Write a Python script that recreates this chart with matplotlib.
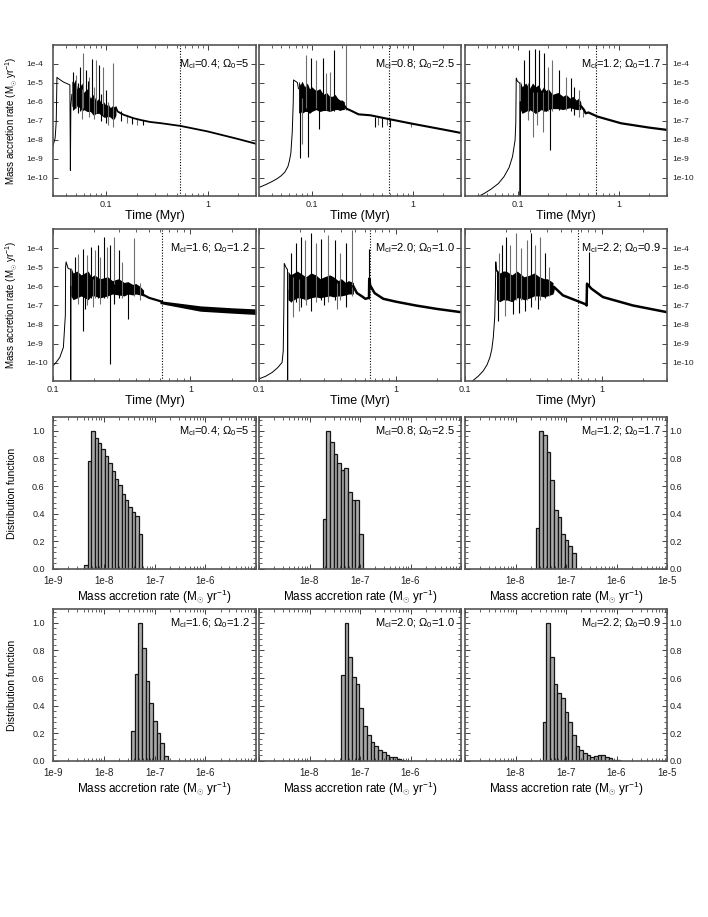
import numpy as np
import matplotlib
matplotlib.use("Agg")
import matplotlib.pyplot as plt
from matplotlib.ticker import FixedLocator, NullLocator, LogLocator, MultipleLocator

plt.rcParams['font.family'] = ['Liberation Sans', 'DejaVu Sans']
plt.rcParams['mathtext.fontset'] = 'custom'
plt.rcParams['mathtext.rm'] = 'Liberation Sans'
plt.rcParams['mathtext.it'] = 'Liberation Sans:italic'
plt.rcParams['mathtext.bf'] = 'Liberation Sans:bold'

# panel captions
labels = [r'M$_{\rm cl}$=0.4; $\Omega_0$=5', r'M$_{\rm cl}$=0.8; $\Omega_0$=2.5',
          r'M$_{\rm cl}$=1.2; $\Omega_0$=1.7', r'M$_{\rm cl}$=1.6; $\Omega_0$=1.2',
          r'M$_{\rm cl}$=2.0; $\Omega_0$=1.0', r'M$_{\rm cl}$=2.2; $\Omega_0$=0.9']

# time of disk formation end (dotted lines), Myr
t_dotted = [0.53, 0.58, 0.60, 0.625, 0.646, 0.668]

# ---- accretion histories (time in Myr, log10 of rate) ----
# panel 1: Mcl=0.4
p1_pre_t = [0.030, 0.0315, 0.0323, 0.0328, 0.0335, 0.038, 0.0440, 0.0445, 0.0450, 0.0460]
p1_pre_lg = [-8.3, -7.9, -7.0, -4.7, -4.75, -4.95, -5.1, -9.6, -6.2, -5.6]
p1_band_t = [0.046, 0.048, 0.05, 0.052, 0.055, 0.058, 0.06, 0.065, 0.07, 0.075, 0.08, 0.085,
             0.09, 0.095, 0.10, 0.105, 0.11, 0.115, 0.12, 0.125]
p1_band_lo = [-6.2, -6.4, -6.3, -6.2, -6.3, -6.5, -6.4, -6.5, -6.5, -6.7, -6.6, -6.6,
              -6.7, -6.8, -6.8, -6.75, -6.8, -6.9, -6.9, -6.7]
p1_band_hi = [-4.9, -5.0, -4.8, -5.3, -5.2, -5.0, -5.5, -5.3, -5.8, -5.6, -5.95, -5.8,
              -6.1, -6.0, -6.2, -6.1, -6.3, -6.2, -6.25, -6.2]
p1_post_t = [0.125, 0.13, 0.14, 0.15, 0.17, 0.185, 0.22, 0.27, 0.35, 0.54, 1.0, 2.0, 3.0]
p1_post_lg = [-6.3, -6.5, -6.6, -6.68, -6.78, -6.85, -6.95, -7.05, -7.12, -7.26, -7.55, -7.95, -8.2]
p1_spikes = [(0.0475, -6.4, -4.40), (0.0505, -6.3, -4.58), (0.0553, -6.5, -4.14),
             (0.0597, -6.3, -3.41), (0.0634, -6.4, -4.32), (0.0684, -6.8, -4.67),
             (0.0722, -6.4, -3.75), (0.0796, -6.6, -3.79), (0.0853, -6.6, -4.05),
             (0.0942, -6.7, -4.14), (0.100, -7.1, -5.37), (0.116, -7.3, -3.96),
             (0.053, -6.6, -5.0), (0.058, -6.9, -5.3), (0.066, -6.5, -4.9),
             (0.076, -6.9, -5.2), (0.090, -7.0, -5.6), (0.105, -7.2, -6.0),
             (0.14, -7.0, -6.5), (0.16, -7.1, -6.7), (0.18, -7.15, -6.8),
             (0.20, -7.2, -6.9), (0.23, -7.2, -6.95)]

# panel 2: Mcl=0.8
p2_pre_t = [0.03, 0.035, 0.04, 0.045, 0.0493, 0.054, 0.058, 0.060, 0.062, 0.064, 0.0655, 0.066, 0.072, 0.0738]
p2_pre_lg = [-10.5, -10.35, -10.2, -10.05, -9.9, -9.7, -9.4, -9.1, -8.7, -7.6, -6.0, -4.84, -4.98, -5.3]
p2_band_t = [0.074, 0.077, 0.08, 0.085, 0.09, 0.095, 0.10, 0.11, 0.12, 0.13, 0.14, 0.15,
             0.16, 0.17, 0.18, 0.19, 0.20, 0.21]
p2_band_lo = [-6.6, -6.5, -6.6, -6.5, -6.5, -6.6, -6.5, -6.4, -6.5, -6.45, -6.45, -6.5,
              -6.45, -6.4, -6.4, -6.45, -6.4, -6.4]
p2_band_hi = [-4.9, -5.1, -4.9, -5.2, -5.0, -5.3, -5.2, -5.4, -5.3, -5.6, -5.5, -5.7,
              -5.7, -5.6, -5.8, -5.9, -5.9, -6.0]
p2_post_t = [0.21, 0.22, 0.243, 0.29, 0.38, 0.58, 1.0, 2.0, 3.0]
p2_post_lg = [-6.2, -6.35, -6.45, -6.65, -6.7, -6.9, -7.15, -7.45, -7.63]
p2_spikes = [(0.076, -8.95, -5.5), (0.080, -8.2, -5.8), (0.091, -8.9, -5.6),
             (0.087, -6.3, -3.53), (0.0977, -6.4, -3.7), (0.109, -6.3, -3.8),
             (0.128, -6.4, -3.7), (0.138, -6.4, -4.49), (0.164, -6.5, -3.26),
             (0.150, -6.5, -4.4), (0.118, -7.4, -5.5), (0.217, -6.4, -3.0),
             (0.42, -7.3, -6.8), (0.45, -7.2, -6.8), (0.50, -7.3, -6.85),
             (0.56, -7.2, -6.85), (0.60, -7.3, -6.9), (0.95, -7.3, -7.1)]

# panel 3: Mcl=1.2
p3_pre_t = [0.03, 0.036, 0.04, 0.047, 0.054, 0.064, 0.073, 0.082, 0.0886, 0.094, 0.0955,
            0.0965, 0.099, 0.104, 0.1050, 0.1054, 0.1058]
p3_pre_lg = [-11.3, -11.2, -11.0, -10.8, -10.6, -10.3, -9.93, -9.45, -8.88, -8.0, -7.1,
             -4.74, -4.9, -5.0, -5.0, -11.5, -6.0]
p3_band_t = [0.106, 0.11, 0.12, 0.13, 0.14, 0.15, 0.16, 0.17, 0.18, 0.19, 0.20, 0.22,
             0.25, 0.28, 0.30, 0.33, 0.35, 0.38, 0.40, 0.42]
p3_band_lo = [-6.4, -6.6, -6.5, -6.4, -6.5, -6.6, -6.5, -6.4, -6.45, -6.5, -6.4, -6.35,
              -6.35, -6.4, -6.35, -6.3, -6.35, -6.4, -6.4, -6.4]
p3_band_hi = [-4.9, -5.2, -5.0, -5.3, -5.0, -5.2, -5.1, -5.4, -5.2, -5.4, -5.3, -5.6,
              -5.5, -5.7, -5.6, -5.8, -5.7, -5.9, -5.8, -6.0]
p3_post_t = [0.42, 0.453, 0.47, 0.50, 0.616, 1.05, 2.0, 3.0]
p3_post_lg = [-6.2, -6.42, -6.6, -6.55, -6.77, -7.12, -7.35, -7.47]
p3_spikes = [(0.115, -6.5, -3.79), (0.125, -6.95, -5.0), (0.129, -6.5, -3.26),
             (0.14, -7.83, -5.5), (0.148, -6.6, -3.21), (0.154, -7.21, -5.5),
             (0.163, -6.5, -3.26), (0.176, -7.56, -5.5), (0.18, -6.5, -3.42),
             (0.197, -6.5, -4.14), (0.208, -8.53, -5.6), (0.22, -6.5, -3.79),
             (0.257, -6.4, -4.32), (0.299, -6.4, -4.67), (0.34, -6.5, -4.75),
             (0.405, -6.8, -5.37), (0.36, -6.7, -5.2), (0.44, -6.8, -6.3)]

# panel 4: Mcl=1.6
p4_pre_t = [0.1, 0.106, 0.112, 0.119, 0.123, 0.1235, 0.1245, 0.129, 0.1343, 0.1346, 0.135]
p4_pre_lg = [-10.16, -9.95, -9.72, -9.19, -7.5, -5.0, -4.72, -5.07, -5.1, -11.5, -6.0]
p4_band_t = [0.135, 0.14, 0.15, 0.16, 0.17, 0.18, 0.19, 0.20, 0.22, 0.25, 0.27, 0.30,
             0.33, 0.35, 0.38, 0.40, 0.43, 0.456]
p4_band_lo = [-6.5, -6.7, -6.6, -6.5, -6.6, -6.7, -6.5, -6.5, -6.6, -6.5, -6.4, -6.45,
              -6.5, -6.4, -6.45, -6.4, -6.45, -6.5]
p4_band_hi = [-5.0, -5.3, -5.2, -5.4, -5.3, -5.2, -5.5, -5.4, -5.6, -5.5, -5.7, -5.6,
              -5.8, -5.75, -5.9, -5.85, -6.0, -6.2]
p4_post_t = [0.456, 0.5, 0.62]
p4_post_lg = [-6.45, -6.6, -6.8]
p4_tail_t = [0.6, 1.18, 2.0, 3.0]
p4_tail_lo = [-6.9, -7.3, -7.4, -7.47]
p4_tail_hi = [-6.75, -7.02, -7.12, -7.18]
p4_spikes = [(0.1447, -6.5, -4.46), (0.153, -6.9, -4.3), (0.164, -8.32, -4.02),
             (0.178, -7.0, -4.35), (0.188, -6.6, -3.93), (0.2025, -6.6, -4.1),
             (0.212, -6.6, -3.84), (0.22, -6.9, -4.46), (0.236, -6.6, -3.4),
             (0.249, -6.6, -3.93), (0.26, -10.07, -3.84), (0.276, -6.6, -3.4),
             (0.30, -6.6, -4.1), (0.318, -6.6, -4.72), (0.35, -7.7, -6.0),
             (0.39, -6.5, -3.49), (0.17, -7.2, -5.5), (0.195, -7.1, -5.6),
             (0.28, -6.9, -5.9), (0.43, -6.7, -5.8)]

# panel 5: Mcl=2.0
p5_pre_t = [0.1, 0.112, 0.125, 0.137, 0.1475, 0.1504, 0.152, 0.153, 0.159, 0.1615, 0.162, 0.1625]
p5_pre_lg = [-10.84, -10.7, -10.5, -10.25, -9.98, -9.37, -7.0, -4.8, -5.07, -5.1, -11.5, -6.2]
p5_band_t = [0.163, 0.17, 0.18, 0.19, 0.20, 0.22, 0.24, 0.26, 0.28, 0.30, 0.33, 0.35,
             0.38, 0.40, 0.43, 0.45, 0.49]
p5_band_lo = [-6.7, -6.8, -6.7, -6.6, -6.6, -6.7, -6.6, -6.55, -6.6, -6.55, -6.5, -6.55,
              -6.5, -6.5, -6.45, -6.4, -6.4]
p5_band_hi = [-5.2, -5.4, -5.3, -5.2, -5.3, -5.5, -5.3, -5.4, -5.6, -5.5, -5.4, -5.5,
              -5.7, -5.6, -5.8, -5.7, -5.8]
p5_post_t = [0.49, 0.52, 0.56, 0.60, 0.637, 0.640, 0.65, 0.70, 0.81, 1.0, 1.4, 2.0, 3.0]
p5_post_lg = [-6.0, -6.35, -6.5, -6.65, -6.6, -5.6, -5.95, -6.35, -6.65, -6.8, -7.0, -7.18, -7.35]
p5_spikes = [(0.172, -6.8, -4.28), (0.178, -7.6, -5.5), (0.188, -6.8, -3.75),
             (0.195, -7.3, -5.6), (0.204, -7.1, -3.4), (0.217, -6.7, -3.6),
             (0.242, -7.3, -3.22), (0.263, -6.8, -3.75), (0.286, -6.7, -3.5),
             (0.32, -6.8, -3.3), (0.358, -6.7, -3.6), (0.39, -6.7, -4.28),
             (0.435, -7.1, -3.75), (0.48, -6.5, -3.05), (0.64, -6.65, -4.02),
             (0.22, -7.0, -5.5), (0.30, -7.0, -5.7), (0.37, -7.2, -5.8)]

# panel 6: Mcl=2.2
p6_pre_t = [0.1, 0.112, 0.125, 0.136, 0.145, 0.152, 0.157, 0.161, 0.165, 0.167, 0.168, 0.17]
p6_pre_lg = [-11.4, -10.98, -10.7, -10.42, -10.1, -9.72, -9.3, -8.67, -7.6, -6.0, -4.72, -5.2]
p6_band_t = [0.17, 0.18, 0.19, 0.20, 0.22, 0.24, 0.25, 0.27, 0.30, 0.32, 0.35, 0.38,
             0.40, 0.42, 0.44]
p6_band_lo = [-6.7, -6.8, -6.7, -6.7, -6.8, -6.6, -6.6, -6.7, -6.6, -6.5, -6.5, -6.55,
              -6.5, -6.45, -6.4]
p6_band_hi = [-5.1, -5.3, -5.2, -5.2, -5.4, -5.2, -5.3, -5.5, -5.4, -5.3, -5.5, -5.6,
              -5.6, -5.7, -5.8]
p6_post_t = [0.44, 0.447, 0.52, 0.65, 0.77, 0.775, 0.78, 0.80, 0.84, 1.02, 1.69, 3.0]
p6_post_lg = [-6.3, -6.03, -6.47, -6.74, -6.95, -7.0, -5.86, -5.95, -6.12, -6.56, -7.0, -7.35]
p6_spikes = [(0.174, -7.79, -5.5), (0.178, -6.7, -4.28), (0.188, -6.7, -3.84),
             (0.196, -7.53, -5.5), (0.20, -6.7, -3.4), (0.215, -6.7, -3.84),
             (0.225, -7.44, -5.6), (0.238, -6.7, -3.23), (0.25, -7.4, -5.7),
             (0.258, -6.7, -3.98), (0.275, -7.3, -5.7), (0.282, -6.7, -3.6),
             (0.306, -7.1, -3.23), (0.326, -6.7, -3.84), (0.34, -7.2, -5.8),
             (0.354, -6.7, -3.4), (0.383, -6.6, -4.28), (0.41, -6.5, -4.98),
             (0.806, -6.0, -4.19)]

# ---- histograms: log10 of first bin edge, bin width (dex), normalised heights ----
h1_start, h1_width = -8.38, 0.0667
h1_heights = [0.03, 0.78, 1.0, 0.95, 0.91, 0.87, 0.82, 0.77, 0.71, 0.65, 0.61, 0.54, 0.50, 0.45, 0.41, 0.38, 0.25]
h2_start, h2_width = -7.74, 0.072
h2_heights = [0.36, 1.0, 0.92, 0.83, 0.77, 0.72, 0.73, 0.56, 0.50, 0.50, 0.255]
h3_start, h3_width = -7.60, 0.072
h3_heights = [0.30, 1.0, 0.97, 0.845, 0.645, 0.43, 0.375, 0.255, 0.21, 0.17, 0.115]
h4_start, h4_width = -7.46, 0.072
h4_heights = [0.22, 0.63, 1.0, 0.82, 0.58, 0.42, 0.29, 0.20, 0.13, 0.036]
h5_start, h5_width = -7.38, 0.074
h5_heights = [0.62, 1.0, 0.75, 0.605, 0.56, 0.38, 0.255, 0.19, 0.135, 0.11, 0.08, 0.063,
              0.04, 0.03, 0.027, 0.012, 0.007, 0.003]
h6_start, h6_width = -7.46, 0.0726
h6_heights = [0.28, 1.0, 0.75, 0.56, 0.49, 0.455, 0.355, 0.285, 0.19, 0.11, 0.08, 0.056,
              0.04, 0.03, 0.036, 0.041, 0.041, 0.031, 0.02, 0.01, 0.005, 0.003]

rate_ticks = ['1e-10', '1e-9', '1e-8', '1e-7', '1e-6', '1e-5', '1e-4']
hist_xticks = [['1e-9', '1e-8', '1e-7', '1e-6', ''],
               ['', '1e-8', '1e-7', '1e-6', ''],
               ['', '1e-8', '1e-7', '1e-6', '1e-5']]
ylab_rate = r'Mass accretion rate (M$_{\odot}$ yr$^{-1}$)'
xlab_hist = r'Mass accretion rate (M$_{\odot}$ yr$^{-1}$)'

W, H = 708, 917
fig = plt.figure(figsize=(W / 100, H / 100), dpi=100)
col_left = [53, 259, 465]
col_w = [203, 202, 202]
row_top = [45, 229, 417, 609]
row_h = [151, 152, 152, 152]


def make_ax(r, c):
    return fig.add_axes([col_left[c] / W, 1 - (row_top[r] + row_h[r]) / H,
                         col_w[c] / W, row_h[r] / H])


def style_frame(ax):
    for s in ax.spines.values():
        s.set_color('#555555')
        s.set_linewidth(1.2)
    ax.tick_params(which='both', direction='in', top=True, right=True,
                   labelsize=6.5, colors='#222222')
    ax.tick_params(which='major', length=3.5, width=0.6)
    ax.tick_params(which='minor', length=2, width=0.5)


def draw_rate(ax, pre_t, pre_lg, band_t, band_lo, band_hi, post_t, post_lg, spikes, lw_post):
    ax.plot(pre_t, 10 ** np.array(pre_lg), color='black', lw=0.7)
    ax.fill_between(band_t, 10 ** np.array(band_lo), 10 ** np.array(band_hi),
                    color='black', lw=0)
    for i, (t, lo, hi) in enumerate(spikes):
        ax.vlines(t, 10 ** lo, 10 ** hi, color='#6e6e6e' if i % 2 else 'black', lw=0.8)
    ax.plot(post_t, 10 ** np.array(post_lg), color='black', lw=lw_post)


rate_data = [
    (p1_pre_t, p1_pre_lg, p1_band_t, p1_band_lo, p1_band_hi, p1_post_t, p1_post_lg, p1_spikes, 1.3),
    (p2_pre_t, p2_pre_lg, p2_band_t, p2_band_lo, p2_band_hi, p2_post_t, p2_post_lg, p2_spikes, 1.5),
    (p3_pre_t, p3_pre_lg, p3_band_t, p3_band_lo, p3_band_hi, p3_post_t, p3_post_lg, p3_spikes, 1.6),
    (p4_pre_t, p4_pre_lg, p4_band_t, p4_band_lo, p4_band_hi, p4_post_t, p4_post_lg, p4_spikes, 1.6),
    (p5_pre_t, p5_pre_lg, p5_band_t, p5_band_lo, p5_band_hi, p5_post_t, p5_post_lg, p5_spikes, 1.8),
    (p6_pre_t, p6_pre_lg, p6_band_t, p6_band_lo, p6_band_hi, p6_post_t, p6_post_lg, p6_spikes, 1.8),
]

for k, d in enumerate(rate_data):
    r, c = divmod(k, 3)
    ax = make_ax(r, c)
    draw_rate(ax, *d)
    if k == 3:
        ax.fill_between(p4_tail_t, 10 ** np.array(p4_tail_lo), 10 ** np.array(p4_tail_hi),
                        color='black', lw=0)
    ax.axvline(t_dotted[k], color='black', ls=(0, (1, 1.5)), lw=0.8)
    ax.set_xscale('log')
    ax.set_yscale('log')
    ax.set_xlim(0.03 if r == 0 else 0.1, 3.0)
    ax.set_ylim(10 ** -10.95, 1e-3)
    ax.yaxis.set_major_locator(FixedLocator(10.0 ** np.arange(-10, -3)))
    ax.yaxis.set_minor_locator(NullLocator())
    ax.set_yticklabels(rate_ticks)
    ax.xaxis.set_major_locator(FixedLocator([0.1, 1.0]))
    ax.xaxis.set_minor_locator(LogLocator(subs=np.arange(2, 10)))
    ax.set_xticklabels(['0.1', '1'])
    style_frame(ax)
    ax.tick_params(axis='x', pad=3)
    ax.tick_params(axis='y', labelsize=6, labelleft=(c == 0), labelright=(c == 2))
    if c == 0:
        # left labels are left-aligned in the reference
        ax.tick_params(axis='y', pad=19)
        for lab in ax.get_yticklabels():
            lab.set_horizontalalignment('left')
        ax.set_ylabel(ylab_rate, fontsize=7)
        ax.yaxis.set_label_coords(-0.163, 0.5)
    else:
        ax.tick_params(axis='y', pad=3.5)
    ax.set_xlabel('Time (Myr)', fontsize=9, labelpad=0.5)
    ax.text(0.97, 0.875, labels[k], transform=ax.transAxes, ha='right', va='center',
            fontsize=8)

hist_data = [(h1_start, h1_width, h1_heights), (h2_start, h2_width, h2_heights),
             (h3_start, h3_width, h3_heights), (h4_start, h4_width, h4_heights),
             (h5_start, h5_width, h5_heights), (h6_start, h6_width, h6_heights)]

for k, (start, width, heights) in enumerate(hist_data):
    r, c = divmod(k, 3)
    ax = make_ax(r + 2, c)
    edges = 10 ** (start + width * np.arange(len(heights) + 1))
    ax.bar(edges[:-1], heights, width=np.diff(edges), align='edge',
           color='#a9a9a9', edgecolor='#151515', linewidth=0.9)
    ax.set_xscale('log')
    ax.set_xlim(1e-9, 1e-5)
    ax.set_ylim(0, 1.1)
    ax.xaxis.set_major_locator(FixedLocator([1e-9, 1e-8, 1e-7, 1e-6, 1e-5]))
    ax.xaxis.set_minor_locator(LogLocator(subs=np.arange(2, 10)))
    ax.set_xticklabels(hist_xticks[c])
    ax.yaxis.set_major_locator(MultipleLocator(0.2))
    ax.yaxis.set_minor_locator(MultipleLocator(0.04))
    ax.set_yticks(np.arange(0, 1.01, 0.2))
    ax.set_yticklabels(['0.0', '0.2', '0.4', '0.6', '0.8', '1.0'])
    style_frame(ax)
    ax.tick_params(axis='x', labelsize=7, pad=5)
    ax.tick_params(axis='y', labelleft=(c == 0), labelright=(c == 2))
    ax.tick_params(axis='y', pad=(6 if c == 0 else 2))
    ax.set_xlabel(xlab_hist, fontsize=8.5, labelpad=1)
    if c == 0:
        ax.set_ylabel('Distribution function', fontsize=7.5)
        ax.yaxis.set_label_coords(-0.177, 0.5)
    ax.text(0.97, 0.905, labels[k], transform=ax.transAxes, ha='right', va='center',
            fontsize=8)

fig.savefig('out.png', dpi=100)
